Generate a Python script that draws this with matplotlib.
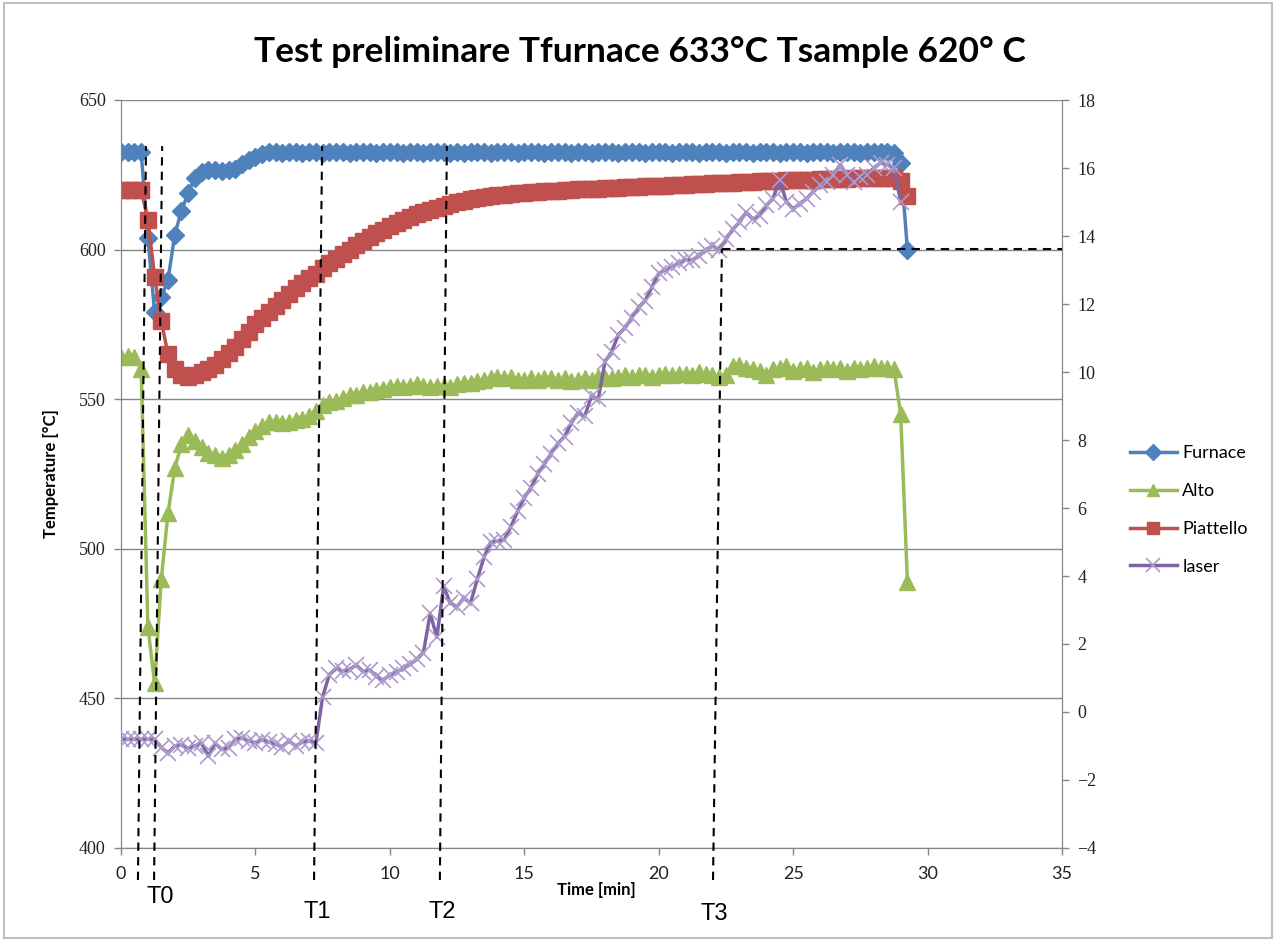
import numpy as np
import matplotlib.pyplot as plt
from matplotlib.patches import Rectangle

# time base: one reading every 15 s
time_min = np.arange(0, 29.26, 0.25)

furnace = [
    632.5, 632.5, 632.5, 632.5, 604, 579, 584, 590, 605, 613,
    619, 624, 626, 626.5, 626.5, 626.3, 626.5, 627, 628.5, 630,
    631, 632, 632.5, 632.6, 632.4, 632.5, 632.6, 632.3, 632.5, 632.6,
    632.4, 632.5, 632.6, 632.5, 632.3, 632.5, 632.6, 632.5, 632.4, 632.5,
    632.6, 632.5, 632.3, 632.5, 632.6, 632.4, 632.5, 632.5, 632.6, 632.4,
    632.5, 632.3, 632.5, 632.6, 632.5, 632.4, 632.5, 632.6, 632.5, 632.3,
    632.5, 632.6, 632.5, 632.4, 632.5, 632.6, 632.5, 632.4, 632.5, 632.6,
    632.3, 632.5, 632.5, 632.6, 632.4, 632.5, 632.6, 632.5, 632.4, 632.5,
    632.6, 632.5, 632.3, 632.5, 632.6, 632.5, 632.4, 632.5, 632.6, 632.5,
    632.4, 632.5, 632.6, 632.5, 632.3, 632.5, 632.6, 632.5, 632.4, 632.5,
    632.6, 632.5, 632.4, 632.5, 632.6, 632.5, 632.3, 632.5, 632.6, 632.5,
    632.4, 632.5, 632.6, 632.5, 632.5, 632.4, 629, 600,
]

alto = [
    564, 564.5, 564, 560, 474, 455, 490, 512, 527, 535,
    538, 536, 534, 532, 531.5, 530.5, 531.5, 533, 535, 537.5,
    539.5, 541, 542.5, 542.5, 542, 542.5, 543, 543.5, 544.5, 546,
    548, 549, 549.5, 550.5, 551.5, 551.5, 552.5, 552.5, 553, 553.5,
    554, 554.5, 554, 554.5, 555, 554.5, 554, 554.5, 554.5, 554,
    555, 555.5, 555.5, 556, 556.5, 557, 557.5, 557, 557.5, 556.5,
    556.5, 557, 556.5, 557, 557, 556.5, 557, 556, 556.5, 557,
    556.5, 557.5, 557, 557, 557.5, 558, 557.5, 558, 558, 557.5,
    558, 558.5, 558, 558.5, 558.5, 558, 559, 558.5, 558, 557.5,
    558, 561, 561.5, 560.5, 560, 559.5, 558, 560, 560.5, 561,
    559.5, 560, 560.5, 559, 560, 560.5, 560, 560.5, 559.5, 560.5,
    560, 560.5, 561, 560.5, 560.5, 560, 545, 489,
]

piattello = [
    620, 620, 620, 620, 610, 591, 576, 565, 560, 558,
    557.5, 558, 559, 560, 561.5, 563.5, 565.5, 567.5, 570, 572.5,
    575, 577, 579, 581, 583, 585, 587, 589, 590.5, 592,
    594, 595.5, 597, 598.5, 600, 601.5, 603, 604.2, 605.5, 606.7,
    608, 609, 610, 611, 611.8, 612.6, 613.4, 614, 614.7, 615.3,
    615.9, 616.4, 616.8, 617.2, 617.5, 617.8, 618.1, 618.4, 618.6, 618.8,
    619, 619.2, 619.3, 619.5, 619.6, 619.7, 619.9, 620, 620.1, 620.2,
    620.3, 620.4, 620.5, 620.6, 620.7, 620.8, 620.9, 621, 621.1, 621.2,
    621.3, 621.4, 621.5, 621.6, 621.7, 621.8, 621.9, 622, 622.1, 622.2,
    622.3, 622.4, 622.5, 622.6, 622.7, 622.8, 622.9, 623, 623, 623.1,
    623.2, 623.3, 623.3, 623.4, 623.5, 623.5, 623.6, 623.7, 623.7, 623.8,
    623.8, 623.9, 623.9, 624, 624, 624, 623, 618,
]

laser = [
    -0.8, -0.8, -0.8, -0.8, -0.8, -0.8, -1.05, -1.2, -1.0, -0.97,
    -1.07, -1.0, -0.92, -1.3, -0.92, -1.1, -1.05, -0.8, -0.77, -0.85,
    -0.9, -0.82, -0.88, -0.95, -1.02, -0.85, -1.0, -0.88, -0.85, -0.9,
    0.45, 1.1, 1.28, 1.2, 1.25, 1.38, 1.19, 1.24, 1.04, 0.94,
    1.09, 1.18, 1.28, 1.4, 1.55, 1.75, 2.9, 2.2, 3.7, 3.2,
    3.1, 3.35, 3.2, 3.9, 4.55, 5.0, 5.02, 5.06, 5.45, 5.9,
    6.3, 6.6, 7.0, 7.3, 7.6, 7.9, 8.1, 8.5, 8.8, 8.7,
    9.3, 9.2, 10.3, 10.6, 11.1, 11.3, 11.6, 11.9, 12.1, 12.5,
    12.9, 13.0, 13.1, 13.2, 13.3, 13.3, 13.4, 13.6, 13.7, 13.6,
    13.9, 14.2, 14.4, 14.7, 14.5, 14.6, 14.9, 15.1, 15.65, 15.0,
    14.8, 14.95, 15.1, 15.3, 15.5, 15.6, 15.8, 16.1, 15.8, 15.6,
    15.75, 15.8, 16.0, 16.15, 16.1, 16.0, 15.0, np.nan,
]

# hand-drawn event lines T0..T3 (slightly slanted in the original)
event_labels = ["T0", "T1", "T2", "T3"]
event_x_bottom = [0.63, 1.23, 7.18, 11.86, 22.02]
event_x_top = [0.93, 1.53, 7.48, 12.12, 22.35]
event_y_top = [634.6, 634.6, 634.6, 634.6, 600.2]

grey = "#868686"
c_furn = "#4F81BD"
c_alto = "#9BBB59"
c_piat = "#C0504D"
c_laser = "#8064A2"

fig = plt.figure(figsize=(12.76, 9.41), dpi=100)
ax = fig.add_axes([121/1276, 1 - 848/941, (1062-121)/1276, (848-100)/941])
ax2 = ax.twinx()

l1, = ax.plot(time_min, furnace, color=c_furn, lw=2.5, marker="D", ms=9,
              mfc=c_furn, mec=c_furn, label="Furnace", zorder=3)
l2, = ax.plot(time_min, alto, color=c_alto, lw=2.5, marker="^", ms=11,
              mfc=c_alto, mec=c_alto, label="Alto", zorder=3)
l3, = ax.plot(time_min, piattello, color=c_piat, lw=2.5, marker="s", ms=11,
              mfc=c_piat, mec=c_piat, label="Piattello", zorder=3)
l4, = ax2.plot(time_min, laser, color=c_laser, lw=2.5, marker="x", ms=12,
               mec="#ad9bcb", mew=1.2, label="laser", zorder=3)

ax.set_xlim(0, 35)
ax.set_ylim(400, 650)
ax2.set_ylim(-4, 18)
ax.set_xticks(range(0, 36, 5))
ax.set_yticks(range(400, 651, 50))
ax2.set_yticks(range(-4, 19, 2))
ax.yaxis.grid(True, color=grey, lw=1)
ax.set_axisbelow(True)

for a in (ax, ax2):
    for s in a.spines.values():
        s.set_color(grey)
    a.spines["top"].set_visible(False)
    a.tick_params(colors=grey, length=5, width=1, direction="out")
ax.tick_params(axis="y", labelcolor="#222222", labelsize=13, pad=6)
ax2.tick_params(axis="y", labelcolor="#222222", labelsize=13, pad=6)
ax.tick_params(axis="x", labelcolor="#222222", labelsize=13, pad=8)
for lab in ax.get_yticklabels() + ax2.get_yticklabels():
    lab.set_family("Liberation Serif")
for lab in ax.get_xticklabels():
    lab.set_family("Lato")

ax.set_ylabel("Temperature [°C]", family="Lato", weight="bold", fontsize=12, labelpad=14)
ax.set_xlabel("Time [min]", family="Lato", weight="bold", fontsize=12, labelpad=2)
ax.xaxis.set_label_coords(0.505, -0.045)

fig.suptitle("Test preliminare Tfurnace 633°C Tsample 620° C", family="Lato",
             weight="bold", fontsize=25.5, x=640/1276, y=1 - 52/941, va="center")

# event dashed lines, drawn on top of the series
for xb, xt, yt in zip(event_x_bottom, event_x_top, event_y_top):
    ax2.plot([xb, xt], [389.3, yt], transform=ax.transData, color="black",
             ls=(0, (4, 3)), lw=1.5, clip_on=False, zorder=5)
ax2.plot([event_x_top[-1], 35], [event_y_top[-1], event_y_top[-1]],
         transform=ax.transData, color="black", ls=(0, (4, 3)), lw=1.5,
         clip_on=False, zorder=5)

label_x = [1.45, 7.3, 11.95, 22.05]
label_y = [383.5, 378.5, 378.5, 378]
for txt, lx, ly in zip(event_labels, label_x, label_y):
    ax.text(lx, ly, txt, fontsize=17, family="Liberation Sans", ha="center",
            va="center", clip_on=False)

fig.legend(handles=[l1, l2, l3, l4], loc="center left",
           bbox_to_anchor=(1130/1276, 1 - 510/941), frameon=False,
           prop={"family": "Lato", "size": 13}, labelspacing=1.2,
           handlelength=2.6, handletextpad=0.3, borderpad=0, borderaxespad=0,
           markerscale=0.85)

fig.patches.append(Rectangle((0.003, 0.003), 0.994, 0.994, transform=fig.transFigure,
                             fill=False, edgecolor="#bfbfbf", lw=1.5))

fig.savefig("out.png", dpi=100)
